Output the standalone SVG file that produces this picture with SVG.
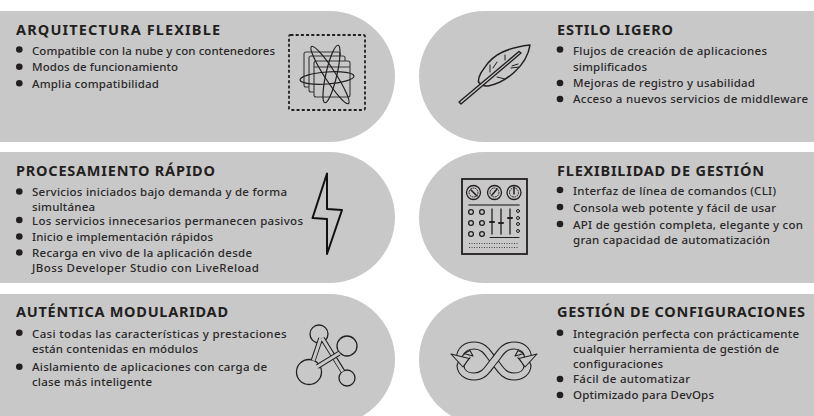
<svg xmlns="http://www.w3.org/2000/svg" width="814" height="416" viewBox="0 0 814 416">
<style>
.p{fill:#c8c8c8}
.t{font:700 14.5px "Noto Sans","Liberation Sans",sans-serif;fill:#231f20}
.l{font:500 11.5px "Noto Sans","Liberation Sans",sans-serif;fill:#2b2829}
.b{fill:#231f20}
.i{fill:none;stroke:#231f20;stroke-width:1.2;stroke-linejoin:round;stroke-linecap:round}
.w{fill:#c8c8c8;stroke:#3a3839;stroke-width:1.1}
.rb{fill:none;stroke:#231f20;stroke-width:8}
.ri{fill:none;stroke:#c8c8c8;stroke-width:5.8}
.ah{fill:#c8c8c8;stroke:#231f20;stroke-width:1.1;stroke-linejoin:round}
.lk{fill:none;stroke:#231f20;stroke-width:5}
.lki{fill:none;stroke:#c8c8c8;stroke-width:3}
.g{fill:#c8c8c8;stroke:#231f20;stroke-width:1.3}
</style>
<defs>
<path id="L" d="M0 0H329.500A65.500 65.500 0 0 1 329.500 131H0Z"/>
<path id="R" d="M814 0H484.500A65.500 65.500 0 0 0 484.500 131H814Z"/>
<circle id="k" r="2.400" class="i" style="stroke-width:1.400"/>
</defs>
<g id="arquitectura">
<use href="#L" class="p" y="11"/>
<text class="t" x="16" y="35" textLength="204" lengthAdjust="spacing">ARQUITECTURA FLEXIBLE</text>
<circle class="b" cx="19.300" cy="49.500" r="3.300"/><circle class="b" cx="19.300" cy="66.700" r="3.300"/><circle class="b" cx="19.300" cy="83.300" r="3.300"/>
<text class="l" x="32" y="55" textLength="243" lengthAdjust="spacing">Compatible con la nube y con contenedores</text>
<text class="l" x="32" y="71" textLength="146" lengthAdjust="spacing">Modos de funcionamiento</text>
<text class="l" x="32" y="88" textLength="127" lengthAdjust="spacing">Amplia compatibilidad</text>
<rect x="289" y="35" width="76" height="75" rx="1.500" fill="none" stroke="#231f20" stroke-width="1.800" stroke-dasharray="3 2.200"/>
<rect class="w" x="304" y="52" width="36" height="35" rx="2"/><rect class="w" x="309" y="56" width="36" height="36" rx="2"/><rect class="w" x="314" y="61" width="36" height="36" rx="2"/><path class="w" d="M314 67H350"/>
<g class="i">
<ellipse cx="327" cy="78" rx="27" ry="6" transform="rotate(-4 327 78)"/>
<ellipse cx="330" cy="75" rx="34" ry="5.500" transform="rotate(57 330 75)"/>
<ellipse cx="331.500" cy="74" rx="29.500" ry="5.500" transform="rotate(103 331.500 74)"/>
</g>
</g>
<g id="estilo">
<use href="#R" class="p" y="11"/>
<text class="t" x="557" y="35" textLength="116" lengthAdjust="spacing">ESTILO LIGERO</text>
<circle class="b" cx="560" cy="49.500" r="3.300"/><circle class="b" cx="560" cy="83" r="3.300"/><circle class="b" cx="560" cy="99" r="3.300"/>
<text class="l" x="573" y="55" textLength="194" lengthAdjust="spacing">Flujos de creación de aplicaciones</text>
<text class="l" x="573" y="70.500" textLength="74" lengthAdjust="spacing">simplificados</text>
<text class="l" x="573" y="87" textLength="182" lengthAdjust="spacing">Mejoras de registro y usabilidad</text>
<text class="l" x="573" y="103.300" textLength="235" lengthAdjust="spacing">Acceso a nuevos servicios de middleware</text>
<path class="i" style="stroke-width:1.500" d="M530 45C512 47 497 52 488 63C482 71 478 76 478.500 82C481 85 484 86.500 488 86C505 83 527 66 530 45Z"/>
<path d="M459 102L461 104L521 53L519 51.500Z" fill="#c8c8c8" stroke="#231f20" stroke-width="1.400" stroke-linejoin="round"/>
<path class="i" style="stroke-width:1" d="M490 72V65M497 62L493 68M505 60V55M512 66L518 64M511 68L519 67M497 77L505 79"/>
</g>
<g id="procesamiento">
<use href="#L" class="p" y="152"/>
<text class="t" x="16" y="176" textLength="199" lengthAdjust="spacing">PROCESAMIENTO RÁPIDO</text>
<circle class="b" cx="19.300" cy="191.500" r="3.300"/><circle class="b" cx="19.300" cy="220" r="3.300"/><circle class="b" cx="19.300" cy="236.500" r="3.300"/><circle class="b" cx="19.300" cy="252.500" r="3.300"/>
<text class="l" x="32" y="196" textLength="255" lengthAdjust="spacing">Servicios iniciados bajo demanda y de forma</text>
<text class="l" x="32" y="211" textLength="63" lengthAdjust="spacing">simultánea</text>
<text class="l" x="32" y="225" textLength="271" lengthAdjust="spacing">Los servicios innecesarios permanecen pasivos</text>
<text class="l" x="32" y="241" textLength="181" lengthAdjust="spacing">Inicio e implementación rápidos</text>
<text class="l" x="32" y="257" textLength="220" lengthAdjust="spacing">Recarga en vivo de la aplicación desde</text>
<text class="l" x="32" y="272" textLength="227" lengthAdjust="spacing">JBoss Developer Studio con LiveReload</text>
<path class="i" style="stroke-width:2;stroke:#111" d="M327 173.500L312.500 218L327 219V254L342 210L327 209Z"/>
</g>
<g id="flexibilidad">
<use href="#R" class="p" y="152"/>
<text class="t" x="557" y="175.500" textLength="207" lengthAdjust="spacing">FLEXIBILIDAD DE GESTIÓN</text>
<circle class="b" cx="560" cy="190" r="3.300"/><circle class="b" cx="560" cy="207" r="3.300"/><circle class="b" cx="560" cy="224" r="3.300"/>
<text class="l" x="573" y="195" textLength="203" lengthAdjust="spacing">Interfaz de línea de comandos (CLI)</text>
<text class="l" x="573" y="212" textLength="203" lengthAdjust="spacing">Consola web potente y fácil de usar</text>
<text class="l" x="573" y="229" textLength="230" lengthAdjust="spacing">API de gestión completa, elegante y con</text>
<text class="l" x="573" y="244" textLength="197" lengthAdjust="spacing">gran capacidad de automatización</text>
<rect x="462" y="179" width="65" height="75" fill="none" stroke="#231f20" stroke-width="1.800"/>
<g class="i" style="stroke-width:1.300">
<circle cx="473.500" cy="192.500" r="7"/><circle cx="494.500" cy="192.500" r="7"/><circle cx="514" cy="192.500" r="7"/>
<circle cx="473.500" cy="192.500" r="4.500" stroke-dasharray="1 1.500" style="stroke-width:1"/><circle cx="494.500" cy="192.500" r="4.500" stroke-dasharray="1 1.500" style="stroke-width:1"/><circle cx="514" cy="192.500" r="4.500" stroke-dasharray="1 1.500" style="stroke-width:1"/>
<path d="M471 190L477 196M497 189L492 195M514 187V194" style="stroke-width:1.500"/>
<path d="M469 205H519" style="stroke-width:1.600;stroke-opacity:.75"/>
<circle cx="471" cy="212" r="2.400"/><circle cx="482" cy="212" r="2.400"/><circle cx="471" cy="223" r="2.400"/><circle cx="482" cy="223" r="2.400"/><circle cx="471" cy="234" r="2.400"/><circle cx="482" cy="234" r="2.400"/>
<path d="M492 209V234M501 209V234M510 209V234"/>
<path d="M490 222H494M499 223H503M508 218H512" style="stroke-width:2"/>
<circle cx="518" cy="211" r="1.500" style="stroke-width:1"/><circle cx="518" cy="218" r="1.500" style="stroke-width:1"/><circle cx="518" cy="224" r="1.500" style="stroke-width:1"/><circle cx="518" cy="231" r="1.500" style="stroke-width:1"/>
<path d="M490 237.500H519" style="stroke-width:1"/>
<path d="M469 243.500H519M469 247.500H519" stroke-dasharray="1 1.500" style="stroke-linecap:butt;stroke-width:.8"/>
</g>
</g>
<g id="modularidad">
<use href="#L" class="p" y="294"/>
<text class="t" x="16" y="316.700" textLength="212" lengthAdjust="spacing">AUTÉNTICA MODULARIDAD</text>
<circle class="b" cx="19.300" cy="332.700" r="3.300"/><circle class="b" cx="19.300" cy="366.700" r="3.300"/>
<text class="l" x="32" y="337.700" textLength="254.500" lengthAdjust="spacing">Casi todas las características y prestaciones</text>
<text class="l" x="32" y="352.700" textLength="166" lengthAdjust="spacing">están contenidas en módulos</text>
<text class="l" x="32" y="370.700" textLength="235" lengthAdjust="spacing">Aislamiento de aplicaciones con carga de</text>
<text class="l" x="32" y="385.700" textLength="120" lengthAdjust="spacing">clase más inteligente</text>
<circle class="g" cx="319" cy="334" r="9"/><circle class="g" cx="347" cy="346" r="10"/><circle class="g" cx="309" cy="372" r="12.500"/><circle class="g" cx="347" cy="378" r="8"/>
<path class="lk" d="M320.700 338.300L313.300 360M322.300 338.300L342.700 371"/>
<path class="lki" d="M320.700 338.300L313.300 360.500M322.300 338.300L342.700 371.500"/>
<path class="lk" d="M317.300 366.700L339 353.300"/>
<path class="lki" d="M316.800 367L339.500 353"/>
</g>
<g id="configuraciones">
<use href="#R" class="p" y="294"/>
<text class="t" x="557" y="316.700" textLength="248" lengthAdjust="spacing">GESTIÓN DE CONFIGURACIONES</text>
<circle class="b" cx="560" cy="332.700" r="3.300"/><circle class="b" cx="560" cy="379" r="3.300"/><circle class="b" cx="560" cy="395" r="3.300"/>
<text class="l" x="573" y="338" textLength="226" lengthAdjust="spacing">Integración perfecta con prácticamente</text>
<text class="l" x="573" y="352.700" textLength="206" lengthAdjust="spacing">cualquier herramienta de gestión de</text>
<text class="l" x="573" y="368" textLength="90" lengthAdjust="spacing">configuraciones</text>
<text class="l" x="573" y="383" textLength="117" lengthAdjust="spacing">Fácil de automatizar</text>
<text class="l" x="573" y="399" textLength="141" lengthAdjust="spacing">Optimizado para DevOps</text>
<path class="rb" d="M460 358C460 350 466 345.500 474 345.500C485 345.500 488 354 494 361C500 368 503 376.500 514 376.500C522 376.500 527 372 527.500 366C526 361 523 358 520 355"/>
<path class="ri" d="M460 358C460 350 466 345.500 474 345.500C485 345.500 488 354 494 361C500 368 503 376.500 514 376.500C522 376.500 527 372 527.500 366C526 361 523 358 520 355"/>
<path class="ah" d="M515 356L518 350.500L524 353.500Z"/>
<path class="rb" d="M528 358C528 350 522 345.500 514 345.500C503 345.500 500 354 494 361C488 368 485 376.500 474 376.500C466 376.500 461 372 460.500 366C462 361 465 358 468 355"/>
<path class="ri" d="M528 358C528 350 522 345.500 514 345.500C503 345.500 500 354 494 361C488 368 485 376.500 474 376.500C466 376.500 461 372 460.500 366C462 361 465 358 468 355"/>
<path class="ah" d="M473 356L470 350.500L464 353.500Z"/>
<path class="ah" d="M451 354L469 358.500L463 367Z"/>
<path class="ah" d="M537 354L519 358.500L525 367Z"/>
</g>
</svg>
